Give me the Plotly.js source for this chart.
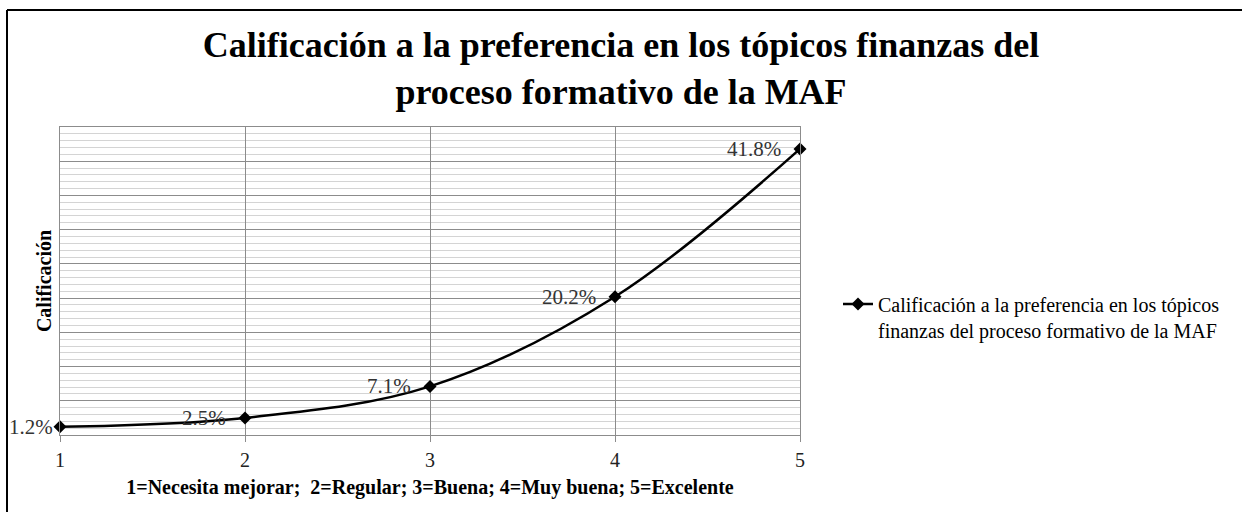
<!DOCTYPE html>
<html>
<head>
<meta charset="utf-8">
<script src="https://cdn.plot.ly/plotly-3.0.1.min.js"></script>
<style>html,body{margin:0;padding:0;background:#fff;}#chart{width:1242px;height:512px;}</style>
</head>
<body>
<div id="chart"></div>
<script>
// Data
const categories = [1, 2, 3, 4, 5];
const values = [1.2, 2.5, 7.1, 20.2, 41.8];
const labels = ["1.2%", "2.5%", "7.1%", "20.2%", "41.8%"];
const seriesName = "Calificación a la preferencia en los tópicos<br>finanzas del proceso formativo de la MAF";
const chartTitle = "Calificación a la preferencia en los tópicos finanzas del<br>proceso formativo de la MAF";
const xTitle = "1=Necesita mejorar;&nbsp; 2=Regular; 3=Buena; 4=Muy buena; 5=Excelente";
const yTitle = "Calificación";

const serif = "Liberation Serif";
const labelShift = [-5, -17, -17, -17, -17];

const trace = {
  x: categories,
  y: values,
  type: "scatter",
  mode: "lines+markers",
  name: seriesName,
  line: {color: "#000", width: 2.5, shape: "spline", smoothing: 1},
  marker: {symbol: "diamond", size: 10, color: "#000"},
  cliponaxis: false
};

const annotations = categories.map((c, i) => ({
  x: c, y: values[i], xref: "x", yref: "y",
  text: labels[i], showarrow: false,
  xanchor: "right", yanchor: "middle", xshift: labelShift[i],
  font: {family: serif, size: 21, color: "#333"}
}));

const L = 60, R = 800, T = 127, B = 435, W = 1242, H = 512;
const px = v => (v - L) / (R - L);
const py = v => (B - v) / (B - T);

const layout = {
  width: W, height: H,
  font: {family: serif, color: "#000"},
  margin: {l: L, r: W - R, t: T, b: H - B, pad: 0},
  paper_bgcolor: "#fff", plot_bgcolor: "#fff",
  title: {
    text: chartTitle,
    font: {family: serif, size: 36, color: "#000", weight: "bold"},
    x: 0.5, xref: "container", xanchor: "center",
    y: 1 - 57 / H, yref: "container", yanchor: "top"
  },
  xaxis: {
    range: [1, 5], dtick: 1, tick0: 1,
    showgrid: true, gridcolor: "#8c8c8c", gridwidth: 1,
    showline: true, linecolor: "#8c8c8c", linewidth: 1, mirror: true,
    ticks: "outside", ticklen: 6, tickcolor: "#8c8c8c",
    ticklabelstandoff: 1,
    tickfont: {family: serif, size: 20, color: "#222"},
    zeroline: false,
    title: {text: xTitle, font: {family: serif, size: 20, color: "#000", weight: "bold"}, standoff: 9}
  },
  yaxis: {
    range: [0, 45], dtick: 5, tick0: 0,
    showgrid: true, gridcolor: "#8c8c8c", gridwidth: 1,
    minor: {dtick: 1, showgrid: true, gridcolor: "#d4d4d4", gridwidth: 1},
    showline: true, linecolor: "#8c8c8c", linewidth: 1, mirror: true,
    showticklabels: false, ticks: "",
    zeroline: false,
    title: {text: yTitle, font: {family: serif, size: 20, color: "#000", weight: "bold"}, standoff: 2}
  },
  showlegend: true,
  legend: {
    x: px(838), xanchor: "left", y: py(317), yanchor: "middle",
    valign: "top",
    font: {family: serif, size: 20, color: "#000"},
    bgcolor: "rgba(0,0,0,0)"
  },
  annotations: annotations,
  shapes: [
    {type: "line", xref: "paper", yref: "paper", x0: px(7), x1: px(7), y0: py(10), y1: py(530), line: {color: "#000", width: 2}},
    {type: "line", xref: "paper", yref: "paper", x0: px(7), x1: px(1260), y0: py(10), y1: py(10), line: {color: "#000", width: 2}}
  ]
};

Plotly.newPlot("chart", [trace], layout, {displayModeBar: false, staticPlot: true});
</script>
</body>
</html>
